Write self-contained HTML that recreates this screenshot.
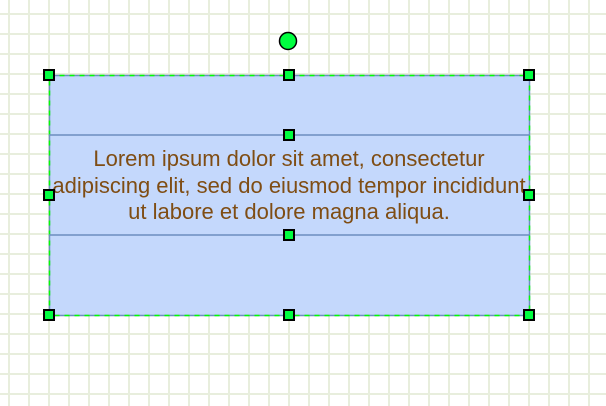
<!DOCTYPE html>
<html><head><style>
body{margin:0;width:606px;height:406px;overflow:hidden;background:#fff;
background-image:linear-gradient(to right,#e8eedd 2px,transparent 2px),linear-gradient(to bottom,#e8eedd 2px,transparent 2px);
background-size:20px 20px;background-position:8px 13px;}
.h{position:absolute;background:#00ff40;border:2px solid #000;box-sizing:border-box;width:12px;height:12px;}
</style></head><body>
<div style="position:absolute;inset:0">
<div style="position:absolute;left:49px;top:75px;width:480px;height:240px;background:#c4d8fc;"></div>
<svg width="606" height="406" style="position:absolute;left:0;top:0">
<rect x="49.5" y="75.5" width="480" height="240" fill="none" stroke="#6c8ebf" stroke-width="1.5"/>
<rect x="49.5" y="75.5" width="480" height="240" fill="none" stroke="#00ff00" stroke-dasharray="5 5" stroke-width="1.5"/>
<line x1="49" y1="135" x2="529" y2="135" stroke="#6c8ebf" stroke-width="1.5"/>
<line x1="49" y1="235" x2="529" y2="235" stroke="#6c8ebf" stroke-width="1.5"/>
<circle cx="288" cy="41" r="8.5" fill="#00ff40" stroke="#000" stroke-width="1.5"/>
</svg>
<div style="position:absolute;left:30px;top:146px;width:518px;text-align:center;font-family:'Liberation Sans',Arial,sans-serif;font-size:22px;line-height:26.5px;color:#7f4d14">Lorem ipsum dolor sit amet, consectetur<br>adipiscing elit, sed do eiusmod tempor incididunt<br>ut labore et dolore magna aliqua.</div>
<div class="h" style="left:43px;top:69px"></div>
<div class="h" style="left:283px;top:69px"></div>
<div class="h" style="left:523px;top:69px"></div>
<div class="h" style="left:43px;top:189px"></div>
<div class="h" style="left:523px;top:189px"></div>
<div class="h" style="left:43px;top:309px"></div>
<div class="h" style="left:283px;top:309px"></div>
<div class="h" style="left:523px;top:309px"></div>
<div class="h" style="left:283px;top:129px"></div>
<div class="h" style="left:283px;top:229px"></div>
</div>
</body></html>
